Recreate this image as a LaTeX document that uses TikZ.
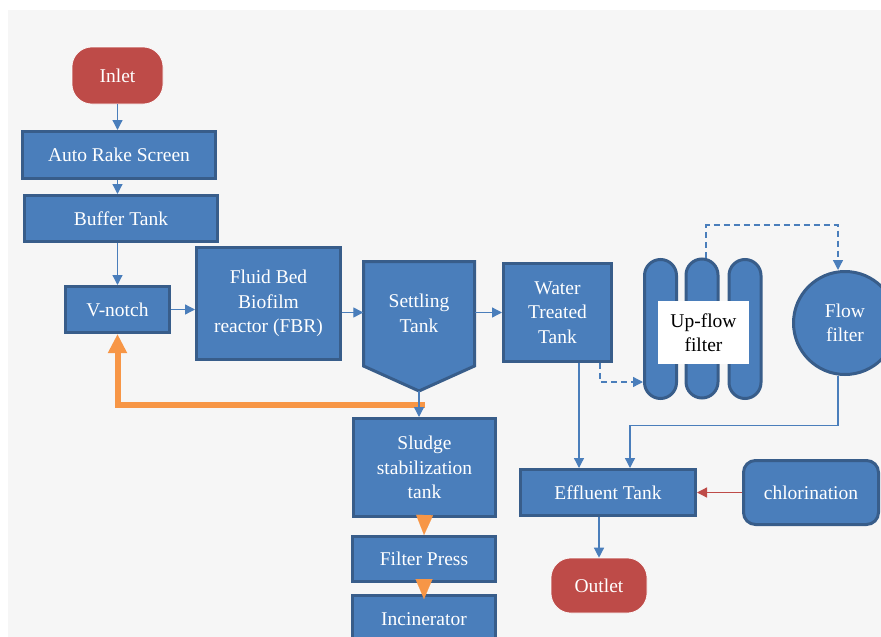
\documentclass[tikz,border=0pt]{standalone}
\usepackage{fontspec}
\setmainfont{Liberation Serif}
\usepackage{tikz}
\usetikzlibrary{calc,arrows.meta,positioning}
\definecolor{procblue}{HTML}{4A7EBB}
\definecolor{procedge}{HTML}{385D8A}
\definecolor{termred}{HTML}{BE4B48}
\definecolor{sludgeorange}{HTML}{F79646}
\definecolor{paper}{HTML}{F6F6F6}

\begin{document}
\begin{tikzpicture}[x=1pt, y=-1pt,
            lbl/.style={text=white, align=center, font=\fontsize{19.5}{24.5}\selectfont, inner sep=0pt},
            proc/.style={lbl, rectangle, draw=procedge, line width=3pt, fill=procblue},
            term/.style={lbl, rectangle, rounded corners=20pt, fill=termred, draw=white, line width=0.6pt},
            filt/.style={proc, rounded corners=16pt, minimum width=32pt, minimum height=139pt},
            conn/.style={draw=procblue, line width=1.3pt, -{Triangle[length=10pt,width=10pt]}},
            bypass/.style={conn, dash pattern=on 6pt off 4pt},
            feed/.style={draw=sludgeorange, line width=6pt, line join=miter, -{Triangle[length=19pt,width=18pt]}},
            drop/.style={draw=sludgeorange, line width=0.1pt, -{Triangle[length=20pt,width=17pt]}}]
            \useasboundingbox (0,0) rectangle (881,637);
            \fill[white] (0,0) rectangle (881,637);
            \fill[paper] (8,10) rectangle (881,637);
            \node[term, minimum width=91pt, minimum height=57pt] (inlet) at (117.5,75.5) {Inlet};
            \node[proc, minimum width=193pt, minimum height=47pt] (rake) at (119,155) {Auto Rake Screen};
            \node[proc, minimum width=193pt, minimum height=46pt] (buffer) at (121,218.5) {Buffer Tank};
            \node[proc, minimum width=104pt, minimum height=46pt] (vnotch) at (117.5,309.5) {V-notch};
            \node[proc, minimum width=144pt, minimum height=112pt] (fbr) at (268.5,303.5) {Fluid Bed\\Biofilm\\reactor (FBR)};
            \coordinate (settletip) at (419,391);
            \fill[procblue, draw=procedge, line width=3pt, line join=miter] (363.5,261.5) -- (474.5,261.5) -- (474.5,366) -- (settletip) -- (363.5,366) -- cycle;
            \node[lbl, minimum width=111pt, minimum height=105pt] (settle) at (419,313.5) {Settling\\Tank};
            \node[proc, minimum width=108pt, minimum height=98pt] (wtt) at (557.5,312.5) {Water\\Treated\\Tank};
            \node[filt] (f1) at (660.5,329) {};
            \node[filt] (f2) at (702,328.5) {};
            \node[filt] (f3) at (745,329) {};
            \node[lbl, text=black, fill=white, minimum width=91pt, minimum height=63pt] (upflow) at (703.5,332.5) {Up-flow\\filter};
            \node[proc, circle, minimum size=103pt] (flow) at (845,323) {Flow\\filter};
            \node[proc, minimum width=142pt, minimum height=98pt] (sludge) at (424.5,467.5) {Sludge\\stabilization\\tank};
            \node[proc, minimum width=143pt, minimum height=45pt] (press) at (424,559) {Filter Press};
            \node[proc, minimum width=143pt, minimum height=47pt] (incin) at (424,619) {Incinerator};
            \node[proc, minimum width=175pt, minimum height=46pt] (effluent) at (608,492.5) {Effluent Tank};
            \node[proc, rounded corners=12pt, minimum width=135pt, minimum height=64pt] (chlor) at (811,492.5) {chlorination};
            \node[term, minimum width=96pt, minimum height=55pt] (outlet) at (599,585.5) {Outlet};
            \draw[conn] (inlet.south) -- (inlet.south |- rake.north);
            \draw[conn] (inlet.south |- rake.south) -- (inlet.south |- buffer.north);
            \draw[conn] (inlet.south |- buffer.south) -- (vnotch.north);
            \draw[conn] (vnotch.east) -- (fbr.west |- vnotch.east);
            \draw[conn] ([yshift=-9pt]fbr.east) -- ([yshift=-9pt]fbr.east -| settle.west);
            \draw[conn] (settle.east |- wtt.west) -- (wtt.west);
            \draw[feed] let \p1 = (settletip) in (\x1+6pt,\y1-14pt) -| (vnotch.south);
            \draw[conn] (settletip) -- (sludge.north -| settletip);
            \draw[conn] ([xshift=21.5pt]wtt.south) -- ([xshift=21.5pt]wtt.south |- effluent.north);
            \draw[bypass] ([xshift=42.5pt]wtt.south) |- ([yshift=-53pt]f1.west);
            \draw[bypass] ([xshift=4pt]f2.north) |- ([xshift=-7pt,yshift=45pt]flow.north) -- ([xshift=-7pt]flow.north);
            \draw[conn] ([xshift=-7pt]flow.south) |- ([xshift=22pt,yshift=42.5pt]effluent.north) -- ([xshift=22pt]effluent.north);
            \draw[conn, draw=termred] (chlor.west) -- (effluent.east);
            \draw[conn] (outlet.north |- effluent.south) -- (outlet.north);
            \draw[drop] (sludge.south) -- (press.north);
            \draw[drop, shorten >=-5pt] (press.south) -- (incin.north);
        \end{tikzpicture}
\end{document}
